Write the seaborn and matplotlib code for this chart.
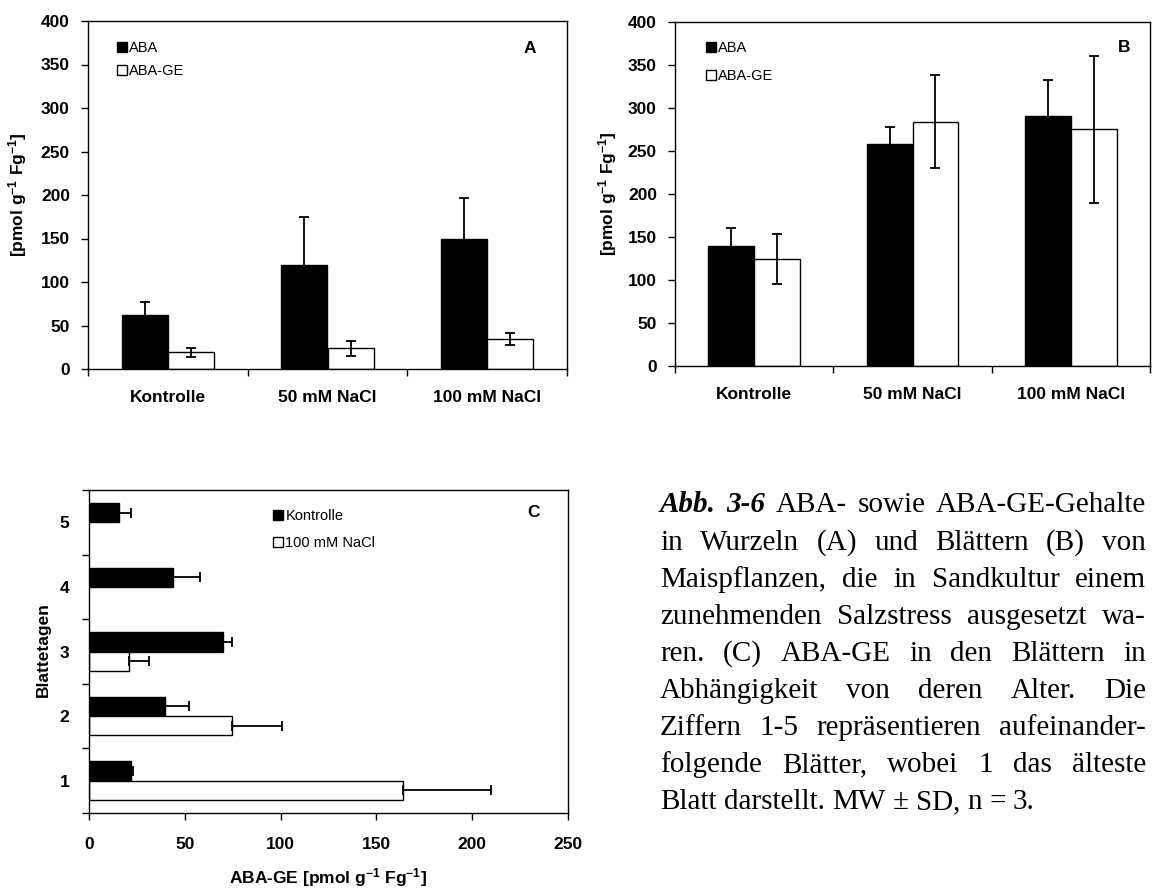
import numpy as np
import pandas as pd
import matplotlib
matplotlib.use("Agg")
import matplotlib.pyplot as plt
import seaborn as sns
from matplotlib.patches import Patch
from matplotlib.container import BarContainer
from matplotlib.ticker import MultipleLocator, FixedLocator

# ---------------- data ----------------
conditions = ["Kontrolle", "50 mM NaCl", "100 mM NaCl"]
series_ab = ["ABA", "ABA-GE"]

roots_aba = [62, 120, 149]
roots_aba_sd = [15, 55, 47]
roots_abage = [19, 24, 34.5]
roots_abage_sd = [5, 8.5, 7]

leaves_aba = [139, 258, 291]
leaves_aba_sd = [21, 20, 41]
leaves_abage = [124, 284, 275]
leaves_abage_sd = [29, 54, 86]

leaf_numbers = ["5", "4", "3", "2", "1"]
treatments_c = ["Kontrolle", "100 mM NaCl"]
c_kontrolle = [15.5, 43.6, 69.8, 39.8, 21.8]
c_kontrolle_sd = [6.3, 14.3, 4.7, 12.4, 1.0]
c_nacl = [np.nan, np.nan, 20.8, 74.5, 164]
c_nacl_sd = [np.nan, np.nan, 10.4, 26.1, 46]

ylabel_ab = r"[pmol g$^{\mathbf{-1}}$ Fg$^{\mathbf{-1}}$]"
xlabel_c = r"ABA-GE [pmol g$^{\mathbf{-1}}$ Fg$^{\mathbf{-1}}$]"
ylabel_c = "Blattetagen"

caption_lines = [
    "Abb. 3-6 ABA- sowie ABA-GE-Gehalte",
    "in Wurzeln (A) und Blättern (B) von",
    "Maispflanzen, die in Sandkultur einem",
    "zunehmenden Salzstress ausgesetzt wa-",
    "ren. (C) ABA-GE in den Blättern in",
    "Abhängigkeit von deren Alter. Die",
    "Ziffern 1-5 repräsentieren aufeinander-",
    "folgende Blätter, wobei 1 das älteste",
    "Blatt darstellt. MW ± SD, n = 3.",
]

# ---------------- style ----------------
sns.set_style("ticks")
plt.rcParams["font.family"] = ["Liberation Sans", "DejaVu Sans"]
plt.rcParams["mathtext.fontset"] = "custom"
plt.rcParams["mathtext.rm"] = "Liberation Sans"
plt.rcParams["mathtext.bf"] = "Liberation Sans:bold"
plt.rcParams["mathtext.it"] = "Liberation Sans:italic"
for key in ["text.color", "axes.labelcolor", "xtick.color", "ytick.color", "axes.edgecolor"]:
    plt.rcParams[key] = "black"

W, H = 1153, 890
DPI = 100
fig = plt.figure(figsize=(W / DPI, H / DPI), dpi=DPI)
fig.patch.set_facecolor("white")

FS = 12.5  # bold axis text size


def ax_at(left, top, right, bottom):
    return fig.add_axes([left / W, 1 - bottom / H, (right - left) / W, (bottom - top) / H])


BLACK_WHITE = {"ABA": "black", "ABA-GE": "white",
               "Kontrolle": "black", "100 mM NaCl": "white"}


def add_errors(ax, order, hue_order, sd_by_hue, orient, one_sided=False):
    bar_conts = [c for c in ax.containers if isinstance(c, BarContainer)]
    for cont in bar_conts:
        for bar in cont.patches:
            if orient == "v":
                pos = bar.get_x() + bar.get_width() / 2
                length = bar.get_height()
            else:
                pos = bar.get_y() + bar.get_height() / 2
                length = bar.get_width()
            if not np.isfinite(length):
                continue
            idx = int(round(pos))
            fc = bar.get_facecolor()
            hue = hue_order[0] if sum(fc[:3]) < 1.5 else hue_order[1]
            sd = sd_by_hue[hue][idx]
            if not np.isfinite(sd):
                continue
            err = [[0], [sd]] if one_sided else sd
            kw = dict(fmt="none", ecolor="black", elinewidth=1.3,
                      capsize=3.5, capthick=1.3, zorder=4)
            if orient == "v":
                ax.errorbar(pos, length, yerr=err, **kw)
            else:
                ax.errorbar(length, pos, xerr=err, **kw)


def style_frame(ax):
    for s in ax.spines.values():
        s.set_visible(True)
        s.set_linewidth(1.0)
        s.set_color("black")


def panel_ab(ax, aba, aba_sd, ge, ge_sd, letter, leg_anchor, leg_spacing, letter_xy, ylab_x):
    df = pd.DataFrame({
        "cond": conditions * 2,
        "series": [series_ab[0]] * 3 + [series_ab[1]] * 3,
        "value": list(aba) + list(ge),
    })
    sns.barplot(data=df, x="cond", y="value", hue="series", order=conditions,
                hue_order=series_ab, palette=BLACK_WHITE, edgecolor="black",
                linewidth=1.0, width=0.58, gap=0, errorbar=None, legend=False,
                saturation=1, ax=ax)
    add_errors(ax, conditions, series_ab,
               {series_ab[0]: aba_sd, series_ab[1]: ge_sd}, "v")
    ax.set_ylim(0, 400)
    ax.set_xlim(-0.5, 2.5)
    ax.yaxis.set_major_locator(MultipleLocator(50))
    ax.xaxis.set_minor_locator(FixedLocator([-0.5, 0.5, 1.5, 2.5]))
    ax.tick_params(axis="x", which="major", length=0, pad=15)
    ax.tick_params(axis="x", which="minor", length=5, width=1.0, direction="out")
    ax.tick_params(axis="y", which="major", length=5, width=1.0, direction="out", pad=8)
    for lab in ax.get_xticklabels() + ax.get_yticklabels():
        lab.set_fontsize(FS)
        lab.set_fontweight("bold")
    ax.set_xlabel("")
    ax.set_ylabel(ylabel_ab, fontsize=FS, fontweight="bold")
    ax.yaxis.set_label_coords(ylab_x, 0.5)
    ax.yaxis.label.set_verticalalignment("center")
    style_frame(ax)
    handles = [Patch(facecolor=BLACK_WHITE[s], edgecolor="black", linewidth=1.0) for s in series_ab]
    ax.legend(handles, series_ab, loc="upper left", bbox_to_anchor=leg_anchor,
              frameon=False, fontsize=10.5, handlelength=0.7, handleheight=0.7,
              handletextpad=0.15, labelspacing=leg_spacing, borderpad=0, borderaxespad=0)
    ax.text(letter_xy[0], letter_xy[1], letter, transform=ax.transAxes,
            fontsize=FS, fontweight="bold", ha="center", va="center")


# Panel A
axA = ax_at(88, 21, 567, 369)
panel_ab(axA, roots_aba, roots_aba_sd, roots_abage, roots_abage_sd, "A",
         (0.06, 0.943), 0.62, (0.923, 0.922), -0.148)

# Panel B
axB = ax_at(675, 22, 1150, 366)
panel_ab(axB, leaves_aba, leaves_aba_sd, leaves_abage, leaves_abage_sd, "B",
         (0.065, 0.945), 0.95, (0.945, 0.927), -0.143)

# Panel C
axC = ax_at(89, 490, 568, 813)
dfC = pd.DataFrame({
    "leaf": leaf_numbers * 2,
    "treat": [treatments_c[0]] * 5 + [treatments_c[1]] * 5,
    "value": c_kontrolle + c_nacl,
}).dropna()
sns.barplot(data=dfC, y="leaf", x="value", hue="treat", order=leaf_numbers,
            hue_order=treatments_c, palette=BLACK_WHITE, edgecolor="black",
            linewidth=1.0, width=0.6, gap=0, errorbar=None, legend=False,
            saturation=1, orient="h", ax=axC)
add_errors(axC, leaf_numbers, treatments_c,
           {treatments_c[0]: c_kontrolle_sd, treatments_c[1]: c_nacl_sd}, "h",
           one_sided=True)
axC.set_xlim(0, 250)
axC.set_ylim(4.5, -0.5)
axC.xaxis.set_major_locator(MultipleLocator(50))
axC.yaxis.set_minor_locator(FixedLocator([-0.5, 0.5, 1.5, 2.5, 3.5, 4.5]))
axC.tick_params(axis="y", which="major", length=0, pad=14)
axC.tick_params(axis="y", which="minor", length=5, width=1.0, direction="out")
axC.tick_params(axis="x", which="major", length=5, width=1.0, direction="out", pad=12)
for lab in axC.get_xticklabels() + axC.get_yticklabels():
    lab.set_fontsize(FS)
    lab.set_fontweight("bold")
axC.set_xlabel(xlabel_c, fontsize=FS, fontweight="bold")
axC.set_ylabel(ylabel_c, fontsize=FS, fontweight="bold")
axC.xaxis.set_label_coords(0.499, -0.201)
axC.xaxis.label.set_verticalalignment("center")
axC.yaxis.set_label_coords(-0.096, 0.505)
axC.yaxis.label.set_verticalalignment("center")
style_frame(axC)
handlesC = [Patch(facecolor=BLACK_WHITE[s], edgecolor="black", linewidth=1.0) for s in treatments_c]
axC.legend(handlesC, treatments_c, loc="upper left", bbox_to_anchor=(0.384, 0.941),
           frameon=False, fontsize=10.5, handlelength=0.7, handleheight=0.7,
           handletextpad=0.15, labelspacing=0.9, borderpad=0, borderaxespad=0)
axC.text(0.929, 0.929, "C", transform=axC.transAxes, fontsize=FS,
         fontweight="bold", ha="center", va="center")

# ---------------- caption (justified) ----------------
renderer = fig.canvas.get_renderer()
CAP_FONT = dict(fontsize=21, family=["Liberation Serif", "DejaVu Serif"])
x0, x1 = 660, 1146
base0, lstep = 512.5, 37.1


def measure(s, **kw):
    t = fig.text(0, 0, s, **CAP_FONT, **kw)
    w = t.get_window_extent(renderer).width
    t.remove()
    return w


space_w = measure("n n") - measure("nn")

for k, line in enumerate(caption_lines):
    words = line.split(" ")
    styles = []
    for j, w in enumerate(words):
        bi = (k == 0 and j < 2)
        styles.append(dict(fontweight="bold" if bi else "normal",
                           fontstyle="italic" if bi else "normal"))
    widths = [measure(w, **st) for w, st in zip(words, styles)]
    justify = k < len(caption_lines) - 1
    if justify and len(words) > 1:
        gap = max(space_w * 0.8, (x1 - x0 - sum(widths)) / (len(words) - 1))
    else:
        gap = space_w
    x = x0
    y = base0 + k * lstep
    for w, st, wd in zip(words, styles, widths):
        fig.text(x / W, 1 - y / H, w, ha="left", va="baseline", **CAP_FONT, **st)
        x += wd + gap

fig.savefig("out.png", dpi=DPI, facecolor="white")
